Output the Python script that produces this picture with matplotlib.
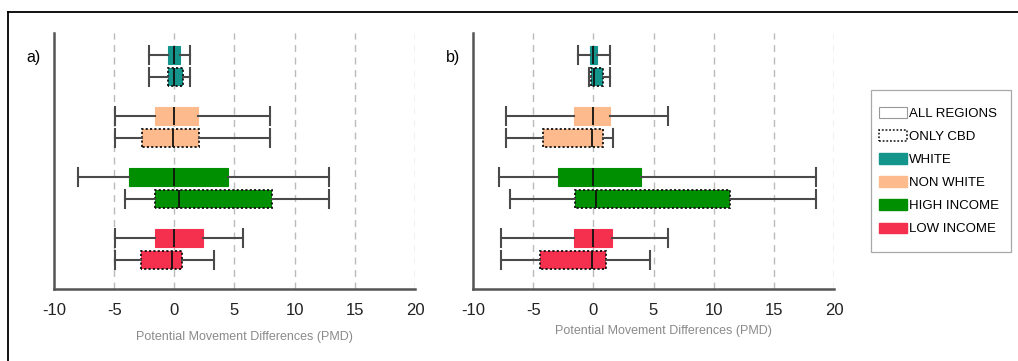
import matplotlib
matplotlib.use('Agg')
import matplotlib.pyplot as plt
from matplotlib.patches import Patch, Rectangle
from matplotlib.lines import Line2D

groups = ['WHITE', 'NON WHITE', 'HIGH INCOME', 'LOW INCOME']
colors = ['#14958c', '#fdba8c', '#008f00', '#f5304f']

# (whislo, q1, med, q3, whishi) per group, panel a)
a_all = [(-2.08, -0.53, 0.0, 0.47, 1.27),
         (-4.9, -1.63, 0.0, 1.99, 7.98),
         (-8.03, -3.77, 0.0, 4.49, 12.83),
         (-4.9, -1.63, 0.0, 2.41, 5.71)]
a_cbd = [(-2.08, -0.55, 0.0, 0.72, 1.27),
         (-4.9, -2.69, -0.08, 2.05, 7.98),
         (-4.07, -1.63, 0.42, 8.09, 12.83),
         (-4.9, -2.80, -0.17, 0.66, 3.30)]
# panel b)
b_all = [(-1.25, -0.25, 0.0, 0.33, 1.42),
         (-7.28, -1.58, 0.0, 1.36, 6.19),
         (-7.86, -2.92, 0.0, 3.92, 18.53),
         (-7.69, -1.58, 0.0, 1.58, 6.19)]
b_cbd = [(-0.36, -0.22, 0.05, 0.83, 1.42),
         (-7.28, -4.19, -0.14, 0.83, 1.61),
         (-6.92, -1.53, 0.25, 11.36, 18.53),
         (-7.69, -4.44, -0.14, 1.06, 4.75)]

xticks = [-10, -5, 0, 5, 10, 15, 20]
xlabel = 'Potential Movement Differences (PMD)'

plt.rcParams['font.family'] = ['Liberation Sans', 'DejaVu Sans']
plt.rcParams['axes.unicode_minus'] = False


def stats(rows):
    return [dict(whislo=r[0], q1=r[1], med=r[2], q3=r[3], whishi=r[4]) for r in rows]


def panel(ax, rows_all, rows_cbd, tag, label_y):
    n = len(groups)
    centers = [40 + 61 * (n - 1 - i) for i in range(n)]
    common = dict(widths=18, capwidths=18, orientation='horizontal', patch_artist=True,
                  showfliers=False,
                  whiskerprops=dict(color='#4a4a4a', lw=1.5),
                  capprops=dict(color='#4a4a4a', lw=1.5),
                  medianprops=dict(color='#111111', lw=1.3))
    b1 = ax.bxp(stats(rows_all), positions=[c + 11 for c in centers],
                boxprops=dict(lw=0.8), **common)
    b2 = ax.bxp(stats(rows_cbd), positions=[c - 11 for c in centers],
                boxprops=dict(lw=1.3, linestyle=(0, (1.2, 1.2))), **common)
    for i, col in enumerate(colors):
        b1['boxes'][i].set_facecolor(col)
        b1['boxes'][i].set_edgecolor(col)
        b2['boxes'][i].set_facecolor(col)
        b2['boxes'][i].set_edgecolor('#111111')

    ax.set_xlim(-10, 20)
    ax.set_ylim(0, 256)
    ax.set_yticks([])
    ax.set_xticks(xticks)
    ax.tick_params(axis='x', length=0, pad=10, labelsize=12, labelcolor='#222222')
    for x in xticks[1:]:
        ax.axvline(x, color='#bbbbbb', lw=1, ls=(0, (5, 4)), zorder=0)
    for s in ['top', 'right']:
        ax.spines[s].set_visible(False)
    for s in ['left', 'bottom']:
        ax.spines[s].set_color('#555555')
        ax.spines[s].set_linewidth(1.8)
    ax.set_xlabel(xlabel, fontsize=9, color='#8a8a8a')
    ax.xaxis.set_label_coords(0.528, label_y)
    ax.text(-0.056, 0.906, tag, transform=ax.transAxes, fontsize=11.5,
            ha='center', va='center')


W, H = 1018, 361
fig = plt.figure(figsize=(W / 100, H / 100), dpi=100)
ax_a = fig.add_axes([54 / W, 1 - 289 / H, 361 / W, 256 / H])
ax_b = fig.add_axes([473 / W, 1 - 289 / H, 361 / W, 256 / H])
panel(ax_a, a_all, a_cbd, 'a)', -0.164)
panel(ax_b, b_all, b_cbd, 'b)', -0.141)

# outer frame (top and left only)
fig.add_artist(Line2D([8 / W, 8 / W], [0, 1 - 12 / H], transform=fig.transFigure,
                      color='black', lw=1.3))
fig.add_artist(Line2D([8 / W, 1], [1 - 12 / H, 1 - 12 / H], transform=fig.transFigure,
                      color='black', lw=1.3))

# legend frame drawn separately so the box size can follow the reference
fig.add_artist(Rectangle((871 / W, 1 - 252 / H), 140 / W, 162 / H, transform=fig.transFigure,
                         facecolor='white', edgecolor='#a8a8a8', lw=0.9))

handles = [Patch(facecolor='white', edgecolor='#999999', lw=0.8),
           Patch(facecolor='white', edgecolor='#111111', lw=1.1, linestyle=(0, (1.2, 1.2)))]
handles += [Patch(facecolor=c, edgecolor=c) for c in colors]
labels = ['ALL REGIONS', 'ONLY CBD'] + groups
leg = fig.legend(handles, labels, loc='upper left',
                 bbox_to_anchor=(879 / W, 1 - 107 / H), bbox_transform=fig.transFigure,
                 prop=dict(size=9.5), frameon=False,
                 handlelength=2.15, handleheight=0.85,
                 handletextpad=0.1, labelspacing=0.78, borderpad=0,
                 borderaxespad=0)

fig.savefig('out.png', dpi=100)
